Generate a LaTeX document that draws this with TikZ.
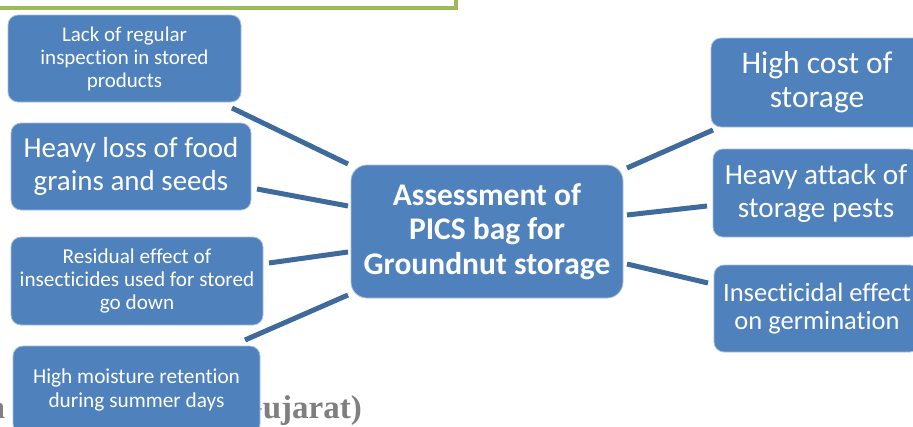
\documentclass[tikz,border=0pt]{standalone}
\usepackage{fontspec}
\setmainfont{Carlito}[Ligatures=NoCommon]
\newfontfamily\seriffont{Liberation Serif}
\definecolor{boxblue}{HTML}{4F81BD}
\definecolor{lineblue}{HTML}{3E6A9C}
\definecolor{leafgreen}{HTML}{9BBB59}
\definecolor{textgray}{HTML}{7F7F7F}
\definecolor{edgeblue}{HTML}{A7C0DE}
\begin{document}
\begin{tikzpicture}[x=1pt,y=-1pt,
  box/.style={draw=edgeblue, line width=0.8pt, fill=boxblue, rounded corners=10pt,
              text=white, align=center, inner sep=0pt},
  conn/.style={draw=lineblue, line width=5pt}]
\useasboundingbox (0,0) rectangle (913,426);
\clip (0,0) rectangle (913,426);
% title frame (partly visible)
\node[draw=leafgreen, line width=4pt, minimum width=480pt, minimum height=30pt, anchor=south east, inner sep=0pt] (frame) at (458,10) {};
% footer text behind the bottom box
\node[anchor=base east, text=textgray, font=\seriffont\bfseries\fontsize{33}{38}\selectfont, inner sep=0pt] (footer) at (362,418) {Saurashtra Dist Junagadh (Gujarat)};
% boxes
\node[box, minimum width=233pt, minimum height=87pt, font=\fontsize{21}{23}\selectfont] (b1) at (124.5,58.5) {Lack of regular\\inspection in stored\\products};
\node[box, minimum width=240pt, minimum height=87pt, font=\fontsize{29}{32.5}\selectfont] (b2) at (131,166.5) {Heavy loss of food\\grains and seeds};
\node[box, minimum width=252pt, minimum height=88pt, font=\fontsize{21.2}{23}\selectfont] (b3) at (137,281) {Residual effect of\\insecticides used for stored\\go down};
\node[box, minimum width=247pt, minimum height=88pt, font=\fontsize{21.3}{24}\selectfont] (b4) at (136.5,390) {High moisture retention\\during summer days};
\node[box, rounded corners=16pt, minimum width=272pt, minimum height=133pt, font=\bfseries\fontsize{31.5}{34.5}\selectfont] (c) at (487,231.5) {Assessment of\\PICS bag for\\Groundnut storage};
\node[box, minimum width=212pt, minimum height=89pt, font=\fontsize{31.5}{34}\selectfont] (r1) at (817,82.5) {High cost of\\storage};
\node[box, minimum width=206pt, minimum height=88pt, font=\fontsize{29.2}{33}\selectfont] (r2) at (816,193) {Heavy attack of\\storage pests};
\node[box, minimum width=206pt, minimum height=87pt, font=\fontsize{26.5}{28}\selectfont] (r3) at (817,308.5) {Insecticidal effect\\on germination};
% connector end points
\coordinate (l1a) at (232,108); \coordinate (l1b) at (348,164);
\coordinate (l2a) at (257,189); \coordinate (l2b) at (348,206);
\coordinate (l3a) at (269,263); \coordinate (l3b) at (348,252);
\coordinate (l4a) at (245,340); \coordinate (l4b) at (348,295);
\coordinate (m1a) at (627,168); \coordinate (m1b) at (713,130);
\coordinate (m2a) at (627,215); \coordinate (m2b) at (707,206);
\coordinate (m3a) at (627,264); \coordinate (m3b) at (708,283);
\draw[conn] (l1a) -- (l1b);
\draw[conn] (l2a) -- (l2b);
\draw[conn] (l3a) -- (l3b);
\draw[conn] (l4a) -- (l4b);
\draw[conn] (m1a) -- (m1b);
\draw[conn] (m2a) -- (m2b);
\draw[conn] (m3a) -- (m3b);
\end{tikzpicture}
\end{document}
